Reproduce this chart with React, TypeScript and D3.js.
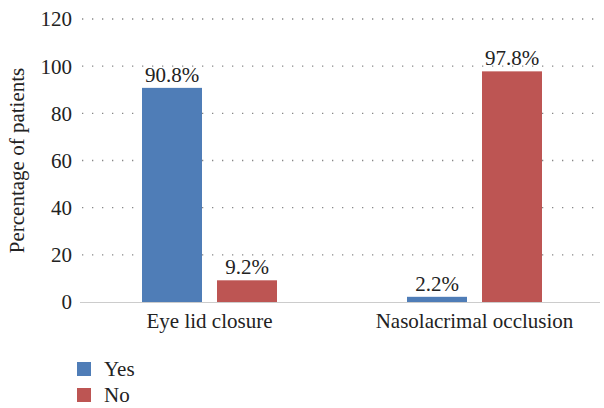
import * as d3 from "d3";

const categories = ["Eye lid closure", "Nasolacrimal occlusion"];
const seriesNames = ["Yes", "No"];
const yesValues = [90.8, 2.2];
const noValues = [9.2, 97.8];
const yTicks = [0, 20, 40, 60, 80, 100, 120];
const colors = ["#4f7db7", "#bd5553"];

const FONT = "Liberation Serif";
const FS = 21;

export default function App() {
  const width = 604;
  const height = 408;

  const x = d3.scaleBand().domain(categories).range([77, 607]);
  const x1 = d3.scaleBand().domain(seriesNames).range([65, 200]).paddingInner(0.2);
  const y = d3.scaleLinear().domain([0, 120]).range([302, 19]);

  const series = [yesValues, noValues];

  return (
    <svg width={width} height={height} style={{ position: "fixed", left: 0, top: 0 }}>
      <rect width={width} height={height} fill="#fff" />
      <g fontFamily={FONT} fontSize={FS} fill="#222">
        {yTicks.map(t => (
          <g key={t}>
            {t > 0 && (
              <line x1={82} x2={600} y1={y(t)} y2={y(t)} stroke="#888" strokeWidth={1.3} strokeDasharray="1.3,8.7" />
            )}
            <text x={72} y={y(t)} dy="0.35em" textAnchor="end">{t}</text>
          </g>
        ))}
        <line x1={80} x2={600} y1={y(0) + 0.5} y2={y(0) + 0.5} stroke="#ccc" strokeWidth={1} />
        <text transform={`translate(24,${(y(0) + y(120)) / 2}) rotate(-90)`} textAnchor="middle">
          Percentage of patients
        </text>
        {categories.map((c, ci) => (
          <g key={c} transform={`translate(${x(c)! + x.bandwidth() / 2 - 132.5},0)`}>
            {series.map((vals, si) => {
              const bx = x1(seriesNames[si])!;
              const v = vals[ci];
              return (
                <g key={si}>
                  <rect x={bx} y={y(v)} width={x1.bandwidth()} height={y(0) - y(v)} fill={colors[si]} />
                  <text x={bx + x1.bandwidth() / 2} y={y(v) - 6} textAnchor="middle">
                    {v.toFixed(1)}%
                  </text>
                </g>
              );
            })}
          </g>
        ))}
        {categories.map(c => (
          <text key={c} x={x(c)! + x.bandwidth() / 2} y={328} textAnchor="middle">{c}</text>
        ))}
        {seriesNames.map((s, i) => (
          <g key={s} transform={`translate(77,${362 + i * 26})`}>
            <rect width={14} height={14} fill={colors[i]} />
            <text x={27} y={7} dy="0.35em">{s}</text>
          </g>
        ))}
      </g>
    </svg>
  );
}
